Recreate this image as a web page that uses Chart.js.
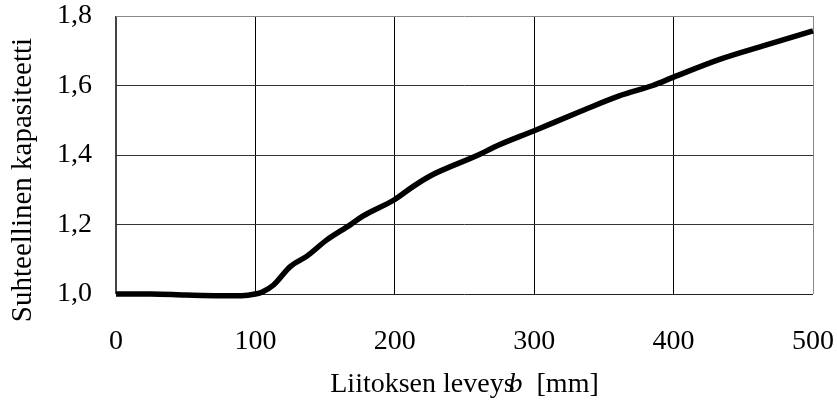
<!DOCTYPE html>
<html>
<head>
<meta charset="utf-8">
<script src="https://cdn.jsdelivr.net/npm/chart.js@4.4.1/dist/chart.umd.min.js"></script>
<style>
  body { margin: 0; background: #fff; }
  canvas { display: block; }
</style>
</head>
<body>
<canvas id="kapasiteettiChart" width="837" height="414"></canvas>
<script>
// Liitoksen leveys b [mm]
const leveys = [0, 25, 50, 75, 90, 100, 105, 113, 125, 137, 151, 168, 177, 200, 213, 225, 261, 273, 300, 333, 361, 385, 400, 433, 466, 500];
// Suhteellinen kapasiteetti
const kapasiteetti = [1.000, 1.000, 0.997, 0.995, 0.995, 1.000, 1.006, 1.026, 1.079, 1.109, 1.155, 1.199, 1.224, 1.272, 1.309, 1.339, 1.402, 1.426, 1.470, 1.525, 1.570, 1.600, 1.624, 1.675, 1.716, 1.757];
const xTicks = [0, 100, 200, 300, 400, 500];
const yTicks = [1.0, 1.2, 1.4, 1.6, 1.8];

const serif = 'Liberation Serif, Times New Roman, serif';

// akselien otsikot piirretään itse (kursiivi b)
const otsikot = {
    id: 'otsikot',
    afterDraw(chart) {
        const c = chart.ctx;
        const area = chart.chartArea;
        c.save();
        c.fillStyle = '#000';
        c.textBaseline = 'middle';

        // y-otsikko
        c.font = '29px ' + serif;
        c.textAlign = 'center';
        c.translate(23, 180);
        c.rotate(-Math.PI / 2);
        c.fillText('Suhteellinen kapasiteetti', 0, 0);
        c.setTransform(1, 0, 0, 1, 0, 0);

        // x-otsikko
        const osa1 = 'Liitoksen leveys';
        const osa2 = 'b';
        const osa3 = '  [mm]';
        c.font = '28px ' + serif;
        const w1 = c.measureText(osa1).width;
        const w3 = c.measureText(osa3).width;
        c.font = 'italic 28px ' + serif;
        const w2 = c.measureText(osa2).width;
        const limitys = 6;
        const total = w1 - limitys + w2 + w3;
        let x = (area.left + area.right) / 2 - total / 2;
        const y = 385;
        c.textAlign = 'left';
        c.font = '28px ' + serif;
        c.fillText(osa1, x, y);
        x += w1 - limitys;
        c.font = 'italic 28px ' + serif;
        c.fillText(osa2, x, y);
        x += w2;
        c.font = '28px ' + serif;
        c.fillText(osa3, x, y);
        c.restore();
    }
};

const ctx = document.getElementById('kapasiteettiChart').getContext('2d');
const chart = new Chart(ctx, {
    type: 'line',
    data: {
        datasets: [{
            data: leveys.map((x, i) => ({ x: x, y: kapasiteetti[i] })),
            borderColor: '#000',
            borderWidth: 5.5,
            pointRadius: 0,
            cubicInterpolationMode: 'monotone',
            borderJoinStyle: 'round',
            clip: false,
            fill: false
        }]
    },
    options: {
        responsive: false,
        animation: false,
        devicePixelRatio: 1,
        layout: { padding: { top: 16, right: 24, left: 0, bottom: 0 } },
        plugins: {
            legend: { display: false },
            tooltip: { enabled: false }
        },
        scales: {
            x: {
                type: 'linear',
                min: 0,
                max: 500,
                afterBuildTicks: s => { s.ticks = xTicks.map(v => ({ value: v })); },
                afterFit: s => { s.height = 120; s.paddingLeft = 0; s.paddingRight = 0; },
                border: { display: false },
                grid: {
                    drawTicks: false,
                    color: c => c.tick.value === 500 ? '#888' : (c.tick.value === 0 ? '#444' : '#000'),
                    lineWidth: c => c.tick.value === 0 ? 2 : 1
                },
                ticks: {
                    padding: 31,
                    color: '#000',
                    font: { family: serif, size: 28 }
                }
            },
            y: {
                min: 1.0,
                max: 1.8,
                afterBuildTicks: s => { s.ticks = yTicks.map(v => ({ value: v })); },
                afterFit: s => { s.width = 116; s.paddingTop = 0; s.paddingBottom = 0; },
                border: { display: false },
                grid: {
                    drawTicks: false,
                    color: c => c.tick.value >= 1.79 ? '#888' : (c.tick.value <= 1.01 ? '#222' : '#333'),
                    lineWidth: 1
                },
                ticks: {
                    padding: 24,
                    color: '#000',
                    font: { family: serif, size: 28 },
                    callback: v => v.toFixed(1).replace('.', ',')
                }
            }
        }
    },
    plugins: [otsikot]
});
</script>
</body>
</html>
